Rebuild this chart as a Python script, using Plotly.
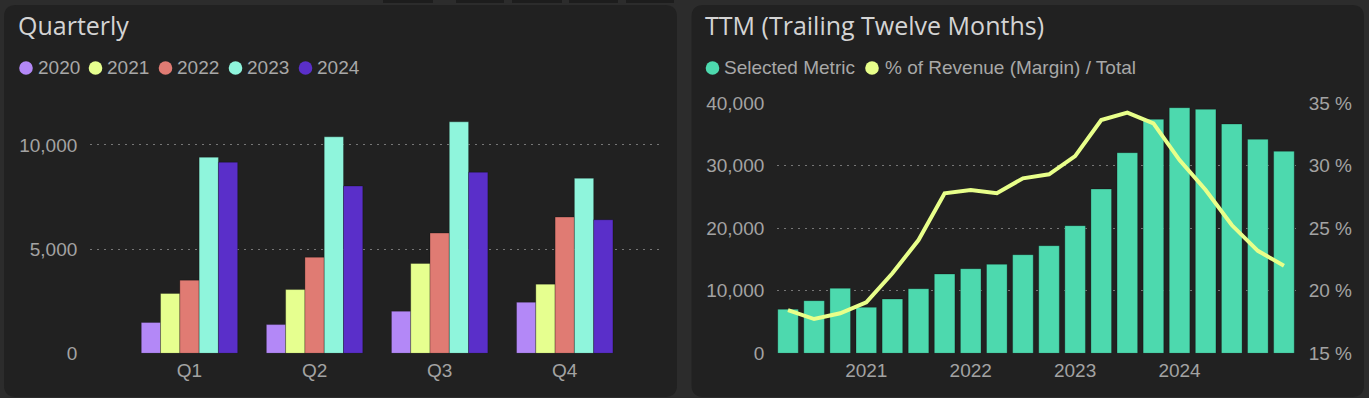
import plotly.graph_objects as go

# ---------------- data ----------------
quarters = ["Q1", "Q2", "Q3", "Q4"]
years = ["2020", "2021", "2022", "2023", "2024"]
q_2020 = [1480, 1380, 2020, 2450]
q_2021 = [2870, 3060, 4310, 3320]
q_2022 = [3510, 4610, 5770, 6540]
q_2023 = [9410, 10390, 11110, 8400]
q_2024 = [9170, 8030, 8690, 6410]
year_colors = ["#B388F7", "#E6FF8F", "#E07B73", "#8FF5DC", "#5A2FC9"]

ttm_metric = [7040, 8420, 10400, 7360, 8690, 10340, 12690, 13540, 14240, 15780,
              17220, 20420, 26290, 32100, 37440, 39300, 39040, 36690, 34240, 32320]
ttm_margin = [18.46, 17.74, 18.2, 19.08, 21.4, 24.06, 27.8, 28.06, 27.8, 29.0,
              29.32, 30.78, 33.66, 34.25, 33.4, 30.46, 28.06, 25.26, 23.2, 22.0]
ttm_tick_pos = [3, 7, 11, 15]
ttm_tick_labels = ["2021", "2022", "2023", "2024"]
ttm_legend = ["Selected Metric", "% of Revenue (Margin) / Total"]
metric_color = "#4DD9AE"
margin_color = "#E8FF8A"

W, H = 1369, 398
def px(x):
    return x / W
def py(y):
    return (H - y) / H

BG = "#2c2c2c"
PANEL = "#212121"
TICK = "#a3a3a3"
TICKFONT = dict(family="Liberation Sans, Arial, sans-serif", size=19, color=TICK)
GRID = "#767676"

fig = go.Figure()

series = [q_2020, q_2021, q_2022, q_2023, q_2024]
for name, vals, col in zip(years, series, year_colors):
    fig.add_trace(go.Bar(x=list(range(len(quarters))), y=vals, name=name,
                         marker=dict(color=col, line=dict(color="rgba(0,0,0,0.25)", width=1)),
                         xaxis="x", yaxis="y", showlegend=False))

fig.add_trace(go.Bar(x=list(range(len(ttm_metric))), y=ttm_metric, name=ttm_legend[0],
                     width=0.79,
                     marker=dict(color=metric_color, line=dict(color="rgba(0,0,0,0.25)", width=1)),
                     xaxis="x2", yaxis="y2", showlegend=False))
fig.add_trace(go.Scatter(x=list(range(len(ttm_margin))), y=ttm_margin, name=ttm_legend[1],
                         mode="lines", line=dict(color=margin_color, width=4),
                         xaxis="x2", yaxis="y3", showlegend=False))

ydom = [py(353.3), py(103.3)]

# ---------- shapes: background panels ----------
def rrect(x0, y0, x1, y1, r):
    p = (f"M {px(x0 + r)},{py(y0)} L {px(x1 - r)},{py(y0)} "
         f"Q {px(x1)},{py(y0)} {px(x1)},{py(y0 + r)} "
         f"L {px(x1)},{py(y1 - r)} Q {px(x1)},{py(y1)} {px(x1 - r)},{py(y1)} "
         f"L {px(x0 + r)},{py(y1)} Q {px(x0)},{py(y1)} {px(x0)},{py(y1 - r)} "
         f"L {px(x0)},{py(y0 + r)} Q {px(x0)},{py(y0)} {px(x0 + r)},{py(y0)} Z")
    return dict(type="path", xref="paper", yref="paper", path=p,
                fillcolor=PANEL, line=dict(width=0), layer="below")

shapes = [rrect(4, 5, 677, 397, 12), rrect(691.5, 5, 1364, 397, 12)]
for x0, x1 in [(383, 433), (456, 504), (512, 562), (569, 618), (626, 674)]:
    shapes.append(dict(type="rect", xref="paper", yref="paper",
                       x0=px(x0), x1=px(x1), y0=py(3), y1=py(0),
                       fillcolor="#1d1d1d", line=dict(width=0), layer="below"))

annotations = []
TITLEFONT = dict(family="Open Sans, sans-serif", size=25, color="#d4d4d4")
annotations.append(dict(text="Quarterly", xref="paper", yref="paper", x=px(16), y=py(25),
                        xanchor="left", yanchor="middle", showarrow=False, font=TITLEFONT))
annotations.append(dict(text="TTM (Trailing Twelve Months)", xref="paper", yref="paper",
                        x=px(703), y=py(25), xanchor="left", yanchor="middle",
                        showarrow=False, font=TITLEFONT))

LEGFONT = dict(family="Liberation Sans, Arial, sans-serif", size=19, color="#a8a8a8")
def legend_item(cx, tx, label, color, cy=68):
    r = 6.8
    shapes.append(dict(type="circle", xref="paper", yref="paper",
                       x0=px(cx - r), x1=px(cx + r), y0=py(cy + r), y1=py(cy - r),
                       fillcolor=color, line=dict(width=0)))
    annotations.append(dict(text=label, xref="paper", yref="paper", x=px(tx), y=py(cy),
                            xanchor="left", yanchor="middle", showarrow=False, font=LEGFONT))

left_circles = [26, 95.5, 165.5, 235.5, 305.5]
for i, (lab, col) in enumerate(zip(years, year_colors)):
    legend_item(left_circles[i], left_circles[i] + 9.5, lab, col)
legend_item(712.5, 722, ttm_legend[0], metric_color)
legend_item(872, 883, ttm_legend[1], margin_color)

common = dict(zeroline=False, showline=False, ticks="", tickfont=TICKFONT, automargin=False)

fig.update_layout(
    template="none",
    width=W, height=H,
    margin=dict(l=0, r=0, t=0, b=0, pad=0),
    paper_bgcolor=BG, plot_bgcolor="rgba(0,0,0,0)",
    barmode="group", bargap=0.229, bargroupgap=0,
    showlegend=False,
    shapes=shapes, annotations=annotations,
    xaxis=dict(domain=[px(90.3), px(660.8)], range=[-0.793, 3.768],
               tickvals=list(range(len(quarters))), ticktext=quarters,
               showgrid=False, anchor="y", ticklabelstandoff=4, **common),
    yaxis=dict(domain=ydom, range=[0, 12000], dtick=5000, tickformat=",",
               showgrid=True, gridcolor=GRID, griddash="2px,5px", gridwidth=1,
               anchor="x", ticklabelstandoff=12, **common),
    xaxis2=dict(domain=[px(777.3), px(1295.7)], range=[-0.41, 19.45],
                tickvals=ttm_tick_pos, ticktext=ttm_tick_labels,
                showgrid=False, anchor="y2", ticklabelstandoff=4, **common),
    yaxis2=dict(domain=ydom, range=[0, 40000], dtick=10000, tickformat=",",
                showgrid=True, gridcolor=GRID, griddash="2px,5px", gridwidth=1,
                anchor="x2", ticklabelstandoff=12, **common),
    yaxis3=dict(domain=ydom, range=[15, 35], dtick=5, ticksuffix=" %",
                overlaying="y2", side="right", anchor="x2",
                showgrid=False, ticklabelstandoff=12, **common),
)

fig.write_html("out.html", config={"displayModeBar": False, "responsive": False},
               post_script="document.body.style.margin='0';document.body.style.padding='0';"
                           "document.body.style.overflow='hidden';"
                           "document.documentElement.style.overflow='hidden';")
